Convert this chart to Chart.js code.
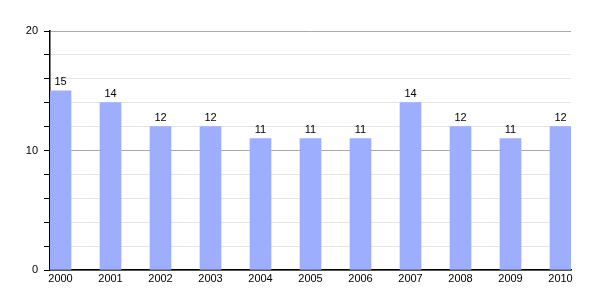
<!DOCTYPE html>
<html>
<head>
<meta charset="utf-8">
<script src="https://cdn.jsdelivr.net/npm/chart.js@4/dist/chart.umd.min.js"></script>
<style>
html,body{margin:0;padding:0;background:#fff;}
canvas{display:block;}
</style>
</head>
<body>
<canvas id="c" width="600" height="300"></canvas>
<script>
const years = ["2000","2001","2002","2003","2004","2005","2006","2007","2008","2009","2010"];
const values = [15,14,12,12,11,11,11,14,12,11,12];
const yTickLabels = [0,10,20];

const points = values.map((v,i)=>({x:i,y:v}));

const valueLabels = {
  id:'valueLabels',
  afterDatasetsDraw(chart){
    const ctx = chart.ctx;
    const meta = chart.getDatasetMeta(0);
    ctx.save();
    ctx.font = '11px "Liberation Sans", Arial, sans-serif';
    ctx.fillStyle = '#000';
    ctx.textAlign = 'center';
    ctx.textBaseline = 'bottom';
    meta.data.forEach((el,i)=>{
      ctx.fillText(String(values[i]), el.x, el.y - 3);
    });
    ctx.restore();
  }
};

new Chart(document.getElementById('c'), {
  type:'bar',
  data:{
    datasets:[{
      data: points,
      backgroundColor:'#9daeff',
      borderWidth:0,
      barThickness:21
    }]
  },
  options:{
    responsive:false,
    animation:false,
    layout:{padding:{left:0,right:29,top:31,bottom:0}},
    plugins:{legend:{display:false},tooltip:{enabled:false}},
    scales:{
      x:{
        type:'linear',
        min:-0.21,
        max:10.21,
        offset:false,
        afterBuildTicks(s){ s.ticks = years.map((_,i)=>({value:i})); },
        afterFit(s){ s.height = 30; },
        grid:{display:false, drawTicks:false},
        border:{display:true,color:'#000',width:1.5},
        ticks:{
          autoSkip:false,
          maxRotation:0,
          padding:2,
          color:'#000',
          font:{family:'"Liberation Sans", Arial, sans-serif', size:11},
          callback:(v)=>years[v]
        }
      },
      y:{
        min:0,
        max:20,
        afterFit(s){ s.width = 50; },
        border:{display:true,color:'#000',width:1.5},
        grid:{
          color:(c)=> (c.tick && c.tick.value%10===0) ? '#aaaaaa' : '#e4e4e4',
          tickColor:'#000',
          tickLength:6,
          lineWidth:1
        },
        ticks:{
          stepSize:2,
          padding:6,
          color:'#000',
          font:{family:'"Liberation Sans", Arial, sans-serif', size:11},
          callback:(v)=> yTickLabels.includes(v) ? String(v) : ''
        }
      }
    }
  },
  plugins:[valueLabels]
});
</script>
</body>
</html>
